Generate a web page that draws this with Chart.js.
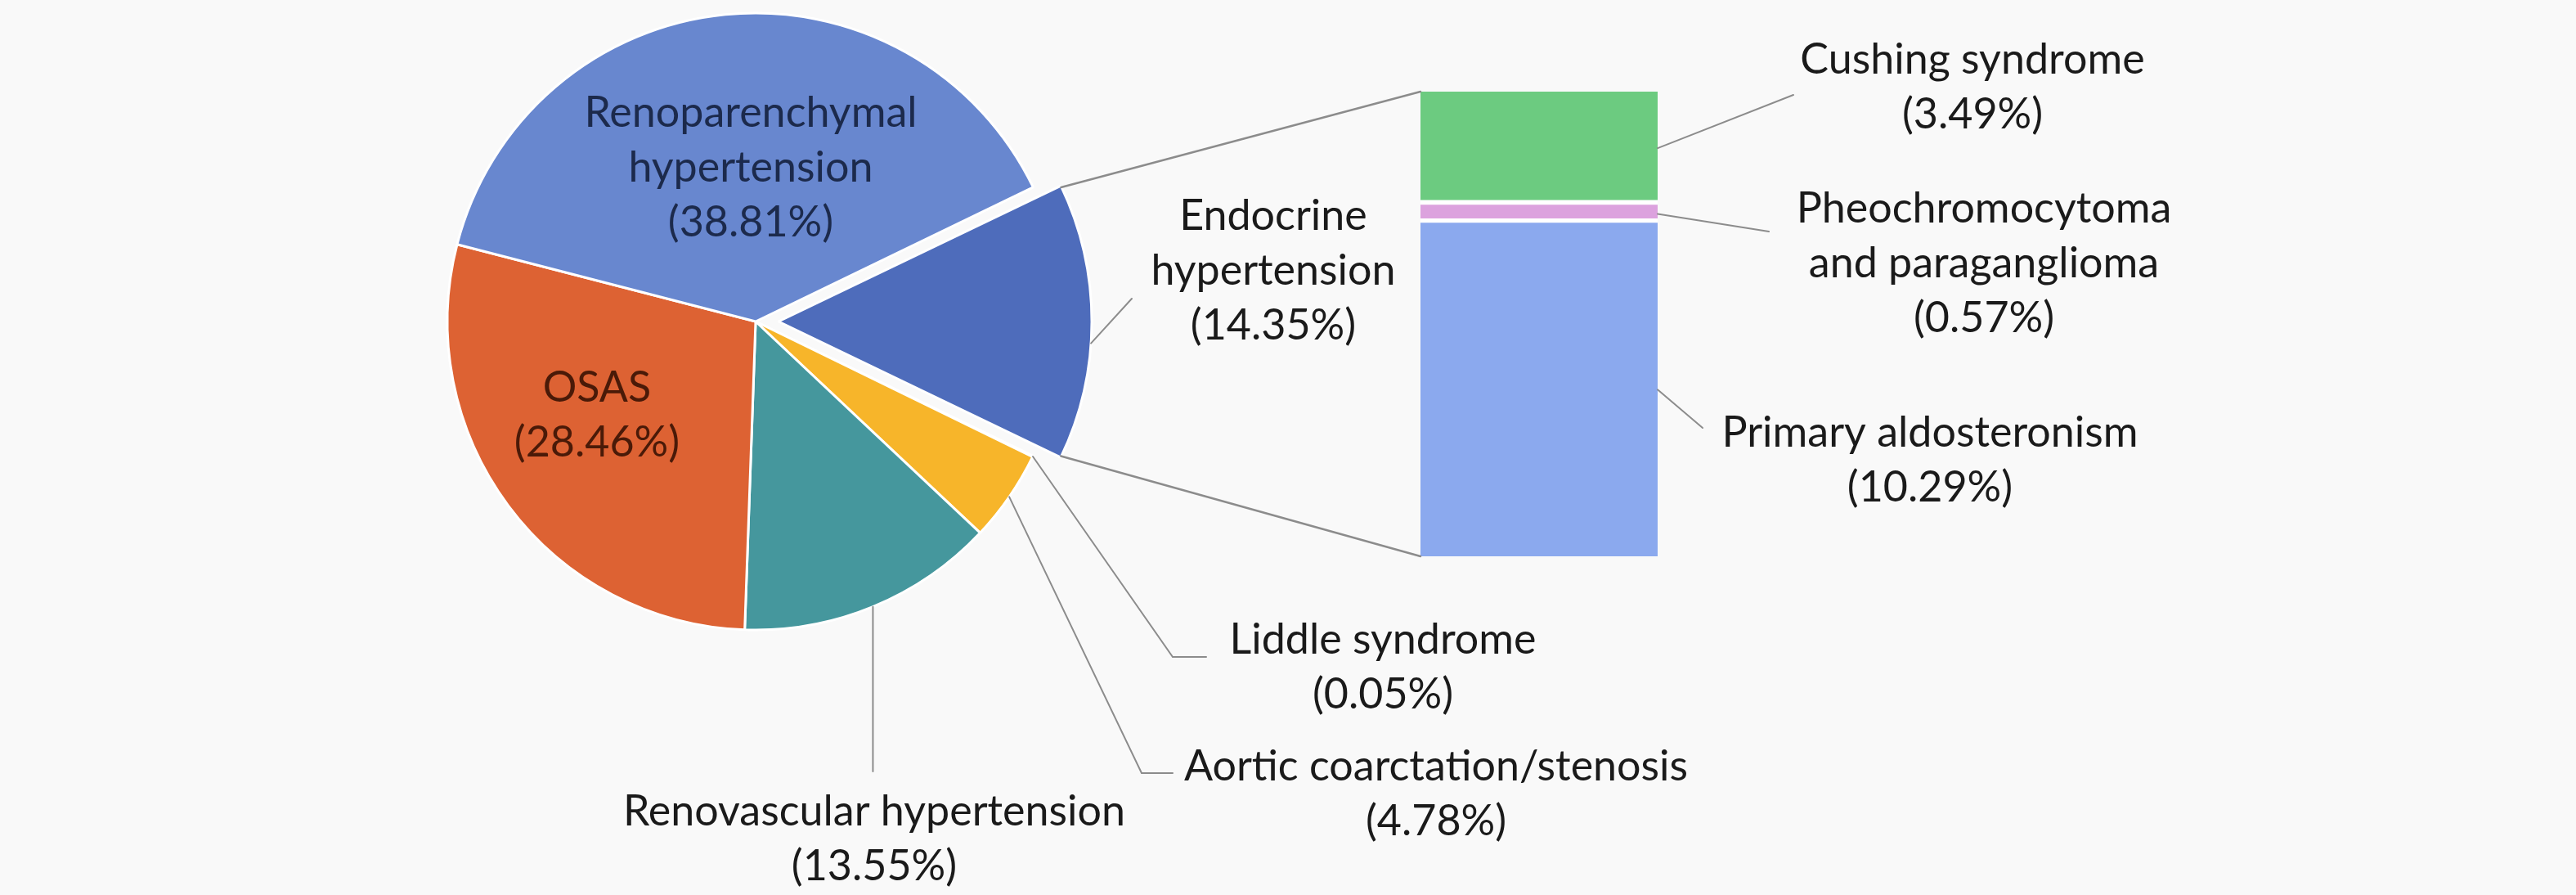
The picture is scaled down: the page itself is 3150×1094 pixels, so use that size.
<!DOCTYPE html>
<html lang="en">
<head>
<meta charset="UTF-8">
<title>Secondary hypertension causes</title>
<script src="https://cdn.jsdelivr.net/npm/chart.js"></script>
<style>
  html, body { margin: 0; padding: 0; background: #f9f9f9; }
  canvas { position: absolute; left: 0; top: 0; }
</style>
</head>
<body>
<canvas id="pieChart" width="3150" height="1094"></canvas>
<canvas id="barChart" width="3150" height="1094"></canvas>
<script>
// pie slices, clockwise from the exploded endocrine slice
const pieLabels = ['Endocrine hypertension', 'Liddle syndrome', 'Aortic coarctation/stenosis',
                   'Renovascular hypertension', 'OSAS', 'Renoparenchymal hypertension'];
const pieValues = [14.35, 0.05, 4.78, 13.55, 28.46, 38.81];
const pieColors = ['#4e6cbb', '#c00000', '#f7b52a', '#45979d', '#dd6233', '#6887cf'];
const pieOffsets = [112, 0, 0, 0, 0, 0];

// stacked bar that breaks down the endocrine slice, bottom to top
const barLabels = ['Primary aldosteronism', 'Pheochromocytoma and paraganglioma', 'Cushing syndrome'];
const barValues = [10.29, 0.57, 3.49];
const barColors = ['#8ba9ee', '#dca2de', '#6ccb80'];

// how the label text wraps
const pieLabelLines = [['Endocrine', 'hypertension'], ['Liddle syndrome'], ['Aortic coarctation/stenosis'],
                       ['Renovascular hypertension'], ['OSAS'], ['Renoparenchymal', 'hypertension']];
const barLabelLines = [['Primary aldosteronism'], ['Pheochromocytoma', 'and paraganglioma'], ['Cushing syndrome']];

const FONT = '52px Lato';
const LINE_H = 67;
const LINE_COLOR = '#8c8c8c';

// label boxes (centre of first line) and leader line bends
const pieLabelPos = [
  {x: 1557, y: 264, color: '#1a1a1a', lead: [[1384, 365]], tilt: 0.07},
  {x: 1691, y: 782, color: '#1a1a1a', lead: [[1434, 803], [1475, 803]]},
  {x: 1756, y: 937, color: '#1a1a1a', lead: [[1396, 945], [1434, 945]]},
  {x: 1069, y: 992, color: '#1a1a1a', lead: 'down', downTo: 943},
  {x: 730, y: 474, color: '#4a1a08'},
  {x: 918, y: 138, color: '#1c2a4c'}
];
const barLabelPos = [
  {x: 2360, y: 529, end: [2082, 523]},
  {x: 2426, y: 255, end: [2163, 283]},
  {x: 2412, y: 73, end: [2193, 116]}
];

function fmt(v) { return '(' + v.toFixed(2) + '%)'; }

function drawLines(ctx, lines, x, y, color) {
  ctx.fillStyle = color;
  ctx.font = FONT;
  ctx.textAlign = 'center';
  ctx.textBaseline = 'middle';
  lines.forEach((t, i) => ctx.fillText(t, x, y + i * LINE_H));
}

function arcShift(el) {
  // same displacement Chart.js uses when drawing an offset arc
  const off = (el.options.offset || 0) / 4;
  const circ = el.endAngle - el.startAngle;
  const fix = 1 - Math.sin(Math.min(Math.PI, circ));
  return off * (1 + fix);
}

const pieChart = new Chart(document.getElementById('pieChart'), {
  type: 'pie',
  data: {
    labels: pieLabels,
    datasets: [{
      data: pieValues,
      backgroundColor: pieColors,
      borderColor: '#ffffff',
      borderWidth: 3,
      offset: pieOffsets,
      rotation: 64.2,
      radius: 377
    }]
  },
  options: {
    responsive: false,
    animation: false,
    rotation: 64.2,
    radius: 377,
    layout: { padding: { left: 524, right: 1826, top: 0, bottom: 308 } },
    plugins: { legend: { display: false }, tooltip: { enabled: false } },
    events: []
  }
});

const overlay = {
  id: 'overlay',
  afterDraw(chart) {
    const ctx = chart.ctx;
    const arcs = pieChart.getDatasetMeta(0).data;
    const bars = barValues.map((v, i) => chart.getDatasetMeta(i).data[0]);
    ctx.save();
    ctx.strokeStyle = LINE_COLOR;
    ctx.lineCap = 'round';

    // lines joining the exploded slice to the bar
    const endo = arcs[0];
    const mid = (endo.startAngle + endo.endAngle) / 2;
    const sh = arcShift(endo);
    const sx = endo.x + Math.cos(mid) * sh, sy = endo.y + Math.sin(mid) * sh;
    const top = bars[bars.length - 1], bottom = bars[0];
    const barLeft = top.x - top.width / 2, barRight = top.x + top.width / 2;
    ctx.lineWidth = 2.5;
    ctx.beginPath();
    ctx.moveTo(sx + Math.cos(endo.startAngle) * endo.outerRadius, sy + Math.sin(endo.startAngle) * endo.outerRadius);
    ctx.lineTo(barLeft, top.y);
    ctx.moveTo(sx + Math.cos(endo.endAngle) * endo.outerRadius, sy + Math.sin(endo.endAngle) * endo.outerRadius);
    ctx.lineTo(barLeft, bottom.base);
    ctx.stroke();

    // pie leader lines and labels
    ctx.lineWidth = 2;
    arcs.forEach((a, i) => {
      const p = pieLabelPos[i];
      if (p.lead) {
        const m = (a.startAngle + a.endAngle) / 2 + (p.tilt || 0);
        const s = arcShift(a);
        const ex = a.x + Math.cos(m) * a.outerRadius + Math.cos(m - (p.tilt || 0)) * s;
        const ey = a.y + Math.sin(m) * a.outerRadius + Math.sin(m - (p.tilt || 0)) * s;
        ctx.beginPath();
        ctx.moveTo(ex, ey);
        if (p.lead === 'down') ctx.lineTo(ex, p.downTo);
        else p.lead.forEach(pt => ctx.lineTo(pt[0], pt[1]));
        ctx.stroke();
      }
      drawLines(ctx, pieLabelLines[i].concat([fmt(pieValues[i])]), p.x, p.y, p.color);
    });

    // bar leader lines and labels
    bars.forEach((b, i) => {
      const p = barLabelPos[i];
      ctx.strokeStyle = LINE_COLOR;
      ctx.beginPath();
      ctx.moveTo(barRight, (b.y + b.base) / 2);
      ctx.lineTo(p.end[0], p.end[1]);
      ctx.stroke();
      drawLines(ctx, barLabelLines[i].concat([fmt(barValues[i])]), p.x, p.y, '#1a1a1a');
    });
    ctx.restore();
  }
};

const barTotal = barValues.reduce((s, v) => s + v, 0);

new Chart(document.getElementById('barChart'), {
  type: 'bar',
  data: {
    labels: [''],
    datasets: barValues.map((v, i) => ({
      label: barLabels[i],
      data: [v],
      backgroundColor: barColors[i],
      borderColor: '#ffffff',
      borderWidth: i === 0 ? 0 : { top: 0, left: 0, right: 0, bottom: 6 },
      borderSkipped: false,
      barPercentage: 1,
      categoryPercentage: 1
    }))
  },
  options: {
    responsive: false,
    animation: false,
    layout: { padding: { left: 1737, right: 1123, top: 112, bottom: 414 } },
    scales: {
      x: { stacked: true, display: false },
      y: { stacked: true, display: false, min: 0, max: barTotal }
    },
    plugins: { legend: { display: false }, tooltip: { enabled: false } },
    events: []
  },
  plugins: [overlay]
});
</script>
</body>
</html>
